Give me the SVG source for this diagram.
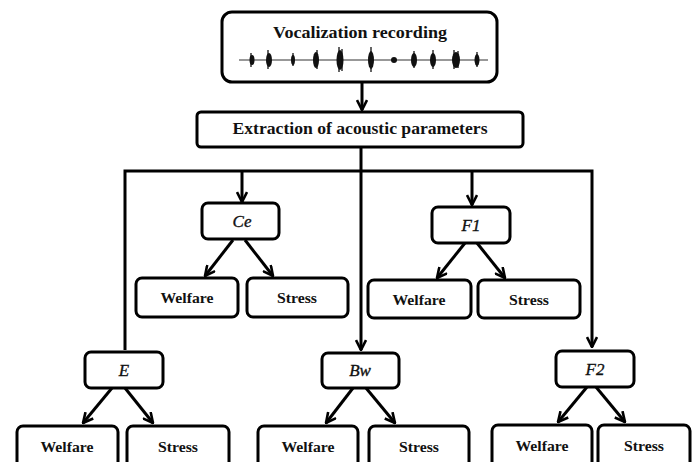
<svg xmlns="http://www.w3.org/2000/svg" width="692" height="462" viewBox="0 0 692 462">
<defs>
<style>
.box{fill:#fff;stroke:#000;stroke-width:3}
.t{font-family:"Liberation Serif",serif;font-weight:bold;fill:#111;text-anchor:middle}
.m{font-family:"Liberation Serif",serif;font-style:italic;fill:#111;stroke:#111;stroke-width:0.35;text-anchor:middle;font-size:17px}
.c{fill:none;stroke:#000;stroke-width:3}
.w{fill:#111}
.s{stroke:#111;stroke-width:1.3}
</style>
<marker id="ah" viewBox="0 0 12 12" refX="11" refY="6" markerWidth="12" markerHeight="12" markerUnits="userSpaceOnUse" orient="auto">
<path d="M1,1 L11,6 L1,11" fill="none" stroke="#000" stroke-width="2.6" stroke-linejoin="miter"/>
</marker>
</defs>
<rect width="692" height="462" fill="#fff"/>
<g id="connectors">
<line class="c" x1="362" y1="82" x2="362" y2="110" marker-end="url(#ah)"/>
<polyline class="c" points="125,350 125,171 592,171 592,347" marker-end="url(#ah)"/>
<line class="c" x1="361" y1="147" x2="361" y2="350" marker-end="url(#ah)"/>
<line class="c" x1="242" y1="171" x2="242" y2="202" marker-end="url(#ah)"/>
<line class="c" x1="472" y1="171" x2="472" y2="205" marker-end="url(#ah)"/>
<line class="c" x1="233" y1="240" x2="205" y2="276" marker-end="url(#ah)"/>
<line class="c" x1="245" y1="240" x2="273" y2="276" marker-end="url(#ah)"/>
<line class="c" x1="465" y1="243" x2="437" y2="278" marker-end="url(#ah)"/>
<line class="c" x1="477" y1="243" x2="505" y2="278" marker-end="url(#ah)"/>
<line class="c" x1="112" y1="388" x2="83" y2="423" marker-end="url(#ah)"/>
<line class="c" x1="125" y1="388" x2="153" y2="423" marker-end="url(#ah)"/>
<line class="c" x1="353" y1="388" x2="326" y2="423" marker-end="url(#ah)"/>
<line class="c" x1="366" y1="388" x2="395" y2="423" marker-end="url(#ah)"/>
<line class="c" x1="587" y1="387" x2="558" y2="422" marker-end="url(#ah)"/>
<line class="c" x1="596" y1="387" x2="625" y2="422" marker-end="url(#ah)"/>
</g>
<g id="recording">
<rect class="box" x="222" y="12" width="275" height="70" rx="10"/>
<text class="t" x="360" y="38" font-size="16" textLength="174" lengthAdjust="spacingAndGlyphs">Vocalization recording</text>
<line x1="239" y1="60" x2="488" y2="60" stroke="#333" stroke-width="1.2"/>
<g class="w">
<ellipse cx="252" cy="60" rx="2.5" ry="5"/>
<ellipse cx="269" cy="60" rx="3" ry="7"/>
<ellipse cx="293" cy="60" rx="2" ry="5"/>
<ellipse cx="316" cy="60" rx="3" ry="8"/>
<ellipse cx="340" cy="60" rx="3.5" ry="10"/>
<ellipse cx="371" cy="60" rx="3" ry="9"/>
<ellipse cx="394" cy="60" rx="3" ry="3"/>
<ellipse cx="414" cy="60" rx="3" ry="7"/>
<ellipse cx="433" cy="60" rx="3" ry="7"/>
<ellipse cx="456" cy="60" rx="4" ry="8"/>
<ellipse cx="477" cy="60" rx="2.5" ry="6"/>
</g>
<g class="s">
<line x1="251" y1="53" x2="251" y2="67"/>
<line x1="268" y1="50" x2="268" y2="69"/>
<line x1="293" y1="53" x2="293" y2="66"/>
<line x1="317" y1="50" x2="317" y2="69"/>
<line x1="339" y1="47" x2="339" y2="72"/>
<line x1="342" y1="49" x2="342" y2="71"/>
<line x1="371" y1="47" x2="371" y2="72"/>
<line x1="414" y1="51" x2="414" y2="68"/>
<line x1="433" y1="50" x2="433" y2="69"/>
<line x1="454" y1="50" x2="454" y2="69"/>
<line x1="458" y1="51" x2="458" y2="68"/>
<line x1="477" y1="52" x2="477" y2="67"/>
</g>
</g>
<g id="extraction">
<rect class="box" x="197" y="112" width="326" height="35" rx="4"/>
<text class="t" x="360" y="134" font-size="16" textLength="255" lengthAdjust="spacingAndGlyphs">Extraction of acoustic parameters</text>
</g>
<g id="ce">
<rect class="box" x="202" y="203" width="77" height="36" rx="6"/>
<text class="m" x="242" y="227">Ce</text>
</g>
<g id="ce-welfare">
<rect class="box" x="136" y="278" width="102" height="39" rx="6"/>
<text class="t" x="187" y="303" font-size="15" textLength="53" lengthAdjust="spacingAndGlyphs">Welfare</text>
</g>
<g id="ce-stress">
<rect class="box" x="247" y="278" width="101" height="39" rx="6"/>
<text class="t" x="297" y="303" font-size="15" textLength="40" lengthAdjust="spacingAndGlyphs">Stress</text>
</g>
<g id="f1">
<rect class="box" x="432" y="207" width="78" height="36" rx="6"/>
<text class="m" x="471" y="231">F1</text>
</g>
<g id="f1-welfare">
<rect class="box" x="368" y="280" width="103" height="38" rx="6"/>
<text class="t" x="419" y="305" font-size="15" textLength="53" lengthAdjust="spacingAndGlyphs">Welfare</text>
</g>
<g id="f1-stress">
<rect class="box" x="478" y="280" width="102" height="38" rx="6"/>
<text class="t" x="529" y="305" font-size="15" textLength="40" lengthAdjust="spacingAndGlyphs">Stress</text>
</g>
<g id="e">
<rect class="box" x="85" y="352" width="78" height="36" rx="6"/>
<text class="m" x="124" y="376">E</text>
</g>
<g id="e-welfare">
<rect class="box" x="17" y="426" width="101" height="46" rx="6"/>
<text class="t" x="67" y="452" font-size="15" textLength="53" lengthAdjust="spacingAndGlyphs">Welfare</text>
</g>
<g id="e-stress">
<rect class="box" x="127" y="426" width="102" height="46" rx="6"/>
<text class="t" x="178" y="452" font-size="15" textLength="40" lengthAdjust="spacingAndGlyphs">Stress</text>
</g>
<g id="bw">
<rect class="box" x="322" y="353" width="77" height="35" rx="6"/>
<text class="m" x="360" y="376">Bw</text>
</g>
<g id="bw-welfare">
<rect class="box" x="258" y="426" width="100" height="46" rx="6"/>
<text class="t" x="308" y="452" font-size="15" textLength="53" lengthAdjust="spacingAndGlyphs">Welfare</text>
</g>
<g id="bw-stress">
<rect class="box" x="369" y="426" width="100" height="46" rx="6"/>
<text class="t" x="419" y="452" font-size="15" textLength="40" lengthAdjust="spacingAndGlyphs">Stress</text>
</g>
<g id="f2">
<rect class="box" x="556" y="351" width="78" height="36" rx="6"/>
<text class="m" x="595" y="375">F2</text>
</g>
<g id="f2-welfare">
<rect class="box" x="492" y="425" width="100" height="46" rx="6"/>
<text class="t" x="542" y="451" font-size="15" textLength="53" lengthAdjust="spacingAndGlyphs">Welfare</text>
</g>
<g id="f2-stress">
<rect class="box" x="598" y="425" width="92" height="46" rx="6"/>
<text class="t" x="644" y="451" font-size="15" textLength="40" lengthAdjust="spacingAndGlyphs">Stress</text>
</g>
</svg>
